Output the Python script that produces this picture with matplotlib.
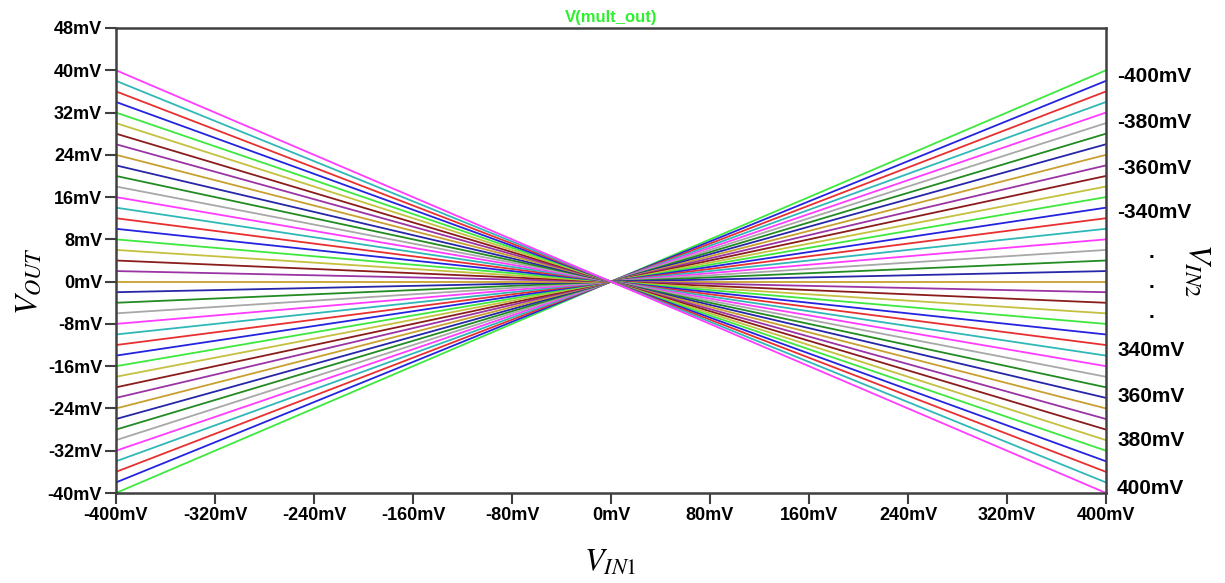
import matplotlib
matplotlib.use('Agg')
import matplotlib.pyplot as plt
from matplotlib.font_manager import FontProperties

# sweep of V_IN1 (mV) - each trace is a straight line through the origin
vin1 = [-400, 0, 400]

# V_IN2 step values (mV), one trace each
vin2 = [-400, -380, -360, -340, -320, -300, -280, -260, -240, -220,
        -200, -180, -160, -140, -120, -100, -80, -60, -40, -20,
        0, 20, 40, 60, 80, 100, 120, 140, 160, 180,
        200, 220, 240, 260, 280, 300, 320, 340, 360, 380, 400]

# V_OUT (mV) read at the left end (V_IN1 = -400mV) for each trace
vout_left = [-40, -38, -36, -34, -32, -30, -28, -26, -24, -22,
             -20, -18, -16, -14, -12, -10, -8, -6, -4, -2,
             0, 2, 4, 6, 8, 10, 12, 14, 16, 18,
             20, 22, 24, 26, 28, 30, 32, 34, 36, 38, 40]

# V_OUT (mV) read at the right end (V_IN1 = +400mV)
vout_right = [40, 38, 36, 34, 32, 30, 28, 26, 24, 22,
              20, 18, 16, 14, 12, 10, 8, 6, 4, 2,
              0, -2, -4, -6, -8, -10, -12, -14, -16, -18,
              -20, -22, -24, -26, -28, -30, -32, -34, -36, -38, -40]

x_ticks = [-400, -320, -240, -160, -80, 0, 80, 160, 240, 320, 400]
y_ticks = [-40, -32, -24, -16, -8, 0, 8, 16, 24, 32, 40, 48]

# V_IN2 legend text down the right side
right_labels = ['-400mV', '-380mV', '-360mV', '-340mV', '.', '.', '.',
                '340mV', '360mV', '380mV', '400mV']

# LTspice default trace colour cycle
trace_colors = ['#3ee83e', '#2424e0', '#e83030', '#30b8b8', '#ff3cff', '#a8a8a8',
                '#228b22', '#2626a8', '#c8a030', '#9a34a4', '#8b1c1c', '#c4c040']

W, H = 1225, 583
fig = plt.figure(figsize=(W / 100, H / 100), dpi=100)
ax = fig.add_axes([116 / W, 1 - 493 / H, 990 / W, 465 / H])

for i, v in enumerate(vin2):
    ys = [vout_left[i], 0, vout_right[i]]
    ax.plot(vin1, ys, color=trace_colors[i % len(trace_colors)], lw=1.3)

ax.set_xlim(-400, 400)
ax.set_ylim(-40, 48)
ax.set_xticks(x_ticks)
ax.set_yticks(y_ticks)
ax.set_xticklabels([f'{t}mV' for t in x_ticks])
ax.set_yticklabels([f'{t}mV' for t in y_ticks])

tick_fp = FontProperties(family='Liberation Sans', weight='bold', size=13)
for lbl in ax.get_xticklabels() + ax.get_yticklabels():
    lbl.set_fontproperties(tick_fp)

ax.tick_params(axis='both', length=8, width=1.5, color='#404040', pad=2)
for s in ax.spines.values():
    s.set_color('#404040')
    s.set_linewidth(1.8)

ax.set_title('V(mult_out)', color='#2ef02e', fontsize=12, fontweight='bold',
             family='Liberation Sans', pad=4)

plt.rcParams['mathtext.fontset'] = 'stix'
fig.text(28 / W, 1 - 281 / H, r'$V_{OUT}$', rotation=90, fontsize=23,
         ha='center', va='center')
fig.text(610 / W, 1 - 562 / H, r'$V_{IN1}$', fontsize=23,
         ha='center', va='center')
fig.text(1197 / W, 1 - 270 / H, r'$V_{IN2}$', rotation=270, fontsize=23,
         ha='center', va='center')

# pixel rows of the right-hand labels in the reference
label_rows = [77, 123, 168, 213, 252, 282, 313, 350, 396, 441, 488]
for txt, row in zip(right_labels, label_rows):
    if txt == '.':
        fig.text(1152 / W, 1 - row / H, txt, fontsize=15, fontweight='bold',
                 family='Liberation Sans', ha='center', va='center')
    else:
        fig.text(1117 / W, 1 - row / H, txt, fontsize=15, fontweight='bold',
                 family='Liberation Sans', ha='left', va='center')

fig.savefig('out.png', dpi=100, facecolor='white')
